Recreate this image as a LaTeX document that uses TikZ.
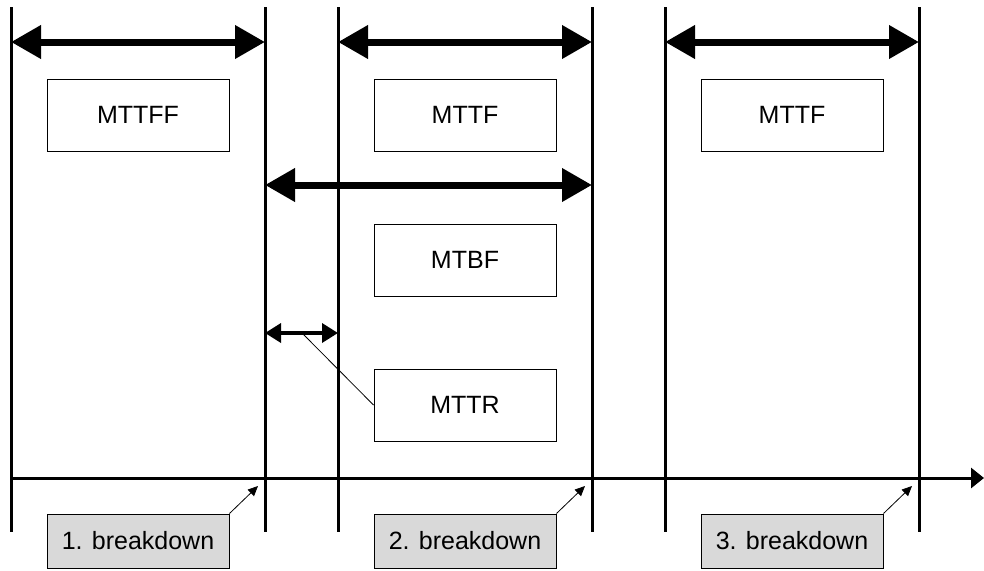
\documentclass[tikz,border=0pt]{standalone}
\usepackage{fontspec}
\setmainfont{Liberation Sans}
\usetikzlibrary{arrows.meta}
\definecolor{eventgray}{RGB}{217,217,217}
\begin{document}
\begin{tikzpicture}[x=1pt,y=-1pt,
  tick/.style={line width=3pt},
  span/.style={line width=7pt,
    {Triangle[length=30pt,width=32pt]}-{Triangle[length=30pt,width=32pt]}},
  shortspan/.style={line width=3.5pt,
    {Triangle[length=16pt,width=19pt]}-{Triangle[length=16pt,width=19pt]}},
  textbox/.style={draw, line width=1pt, minimum width=182pt, minimum height=72pt,
    inner sep=0pt, font=\fontsize{25}{30}\selectfont},
  eventbox/.style={draw, fill=eventgray, line width=1pt, minimum width=182pt,
    minimum height=54pt, inner sep=0pt, font=\fontsize{25}{30}\selectfont},
  pointer/.style={line width=0.8pt, -{Triangle[length=10pt,width=9pt]}},
  leader/.style={line width=0.8pt}
]
\useasboundingbox (0,0) rectangle (984,570);

% time marks
\foreach \i/\x in {1/11,2/265,3/338,4/592,5/665,6/919}{
  \coordinate (t\i) at (\x,7);
  \coordinate (b\i) at (\x,532);
  \draw[tick] (t\i) -- (b\i);
}

% time axis
\coordinate (axs) at (11,478);
\coordinate (axe) at (984,478);
\draw[line width=3pt, -{Triangle[length=13pt,width=20pt]}] (axs) -- (axe);

% spans
\coordinate (s1a) at (11,42);  \coordinate (s1b) at (265,42);
\coordinate (s2a) at (338,42); \coordinate (s2b) at (592,42);
\coordinate (s3a) at (665,42); \coordinate (s3b) at (919,42);
\coordinate (s4a) at (265,185); \coordinate (s4b) at (592,185);
\coordinate (s5a) at (265,333); \coordinate (s5b) at (338,333);
\draw[span] (s1a) -- (s1b);
\draw[span] (s2a) -- (s2b);
\draw[span] (s3a) -- (s3b);
\draw[span] (s4a) -- (s4b);
\draw[shortspan] (s5a) -- (s5b);

% labels
\node[textbox] (mttff) at (138,115) {MTTFF};
\node[textbox] (mttf1) at (465,115) {MTTF};
\node[textbox] (mttf2) at (792,115) {MTTF};
\node[textbox] (mtbf)  at (465,260) {MTBF};
\node[textbox] (mttr)  at (465,405) {MTTR};
\coordinate (rep) at (302,333);
\draw[leader] (rep) -- (mttr.west);

% breakdown events
\node[eventbox] (e1) at (138,541) {1. breakdown};
\node[eventbox] (e2) at (465,541) {2. breakdown};
\node[eventbox] (e3) at (792,541) {3. breakdown};
\coordinate (p1) at (258,486);
\coordinate (p2) at (585,486);
\coordinate (p3) at (912,486);
\draw[pointer] (e1.north east) -- (p1);
\draw[pointer] (e2.north east) -- (p2);
\draw[pointer] (e3.north east) -- (p3);
\end{tikzpicture}
\end{document}
